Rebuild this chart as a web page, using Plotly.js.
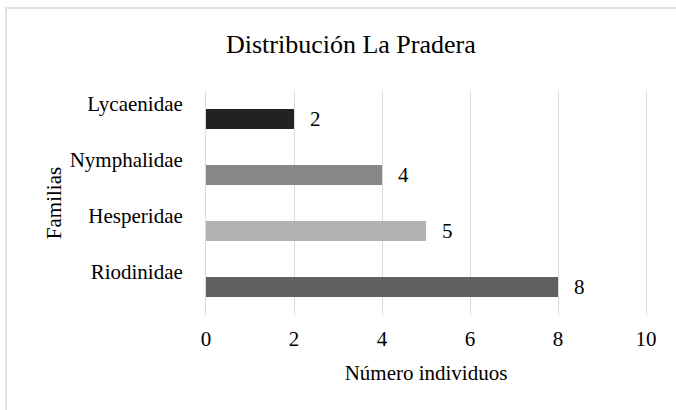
<!DOCTYPE html>
<html>
<head>
<meta charset="utf-8">
<script src="https://cdn.plot.ly/plotly-3.0.1.min.js"></script>
<style>
html,body{margin:0;padding:0;background:#fff;}
#chart{width:676px;height:410px;}
</style>
</head>
<body>
<div id="chart"></div>
<script>
// Data (bottom to top)
const families = ["Riodinidae", "Hesperidae", "Nymphalidae", "Lycaenidae"];
const counts = [8, 5, 4, 2];
const barColors = ["#606060", "#b2b2b2", "#888888", "#222222"];
const xTicks = [0, 2, 4, 6, 8, 10];

const positions = families.map((_, i) => i);
const labelOffset = 0.27;
const SERIF = "Liberation Serif";

const trace = {
  type: "bar",
  orientation: "h",
  x: counts,
  y: positions,
  width: 0.36,
  marker: { color: barColors },
  hoverinfo: "x+text",
  text: families,
  textposition: "none",
  showlegend: false
};

const annotations = counts.map((v, i) => ({
  x: v, y: positions[i], xref: "x", yref: "y",
  text: String(v), showarrow: false, xanchor: "left", yanchor: "middle",
  xshift: 14,
  font: { family: SERIF, size: 21, color: "#000" }
}));

const layout = {
  width: 676, height: 410,
  margin: { l: 206, r: 30, t: 91, b: 95 },
  paper_bgcolor: "#fff", plot_bgcolor: "#fff",
  font: { family: SERIF, color: "#000", size: 21 },
  title: {
    text: "Distribución La Pradera",
    font: { size: 26, family: SERIF, color: "#000" },
    x: 0.519, xref: "container", xanchor: "center",
    y: 0.892, yref: "container", yanchor: "middle"
  },
  xaxis: {
    range: [0, 10],
    tickvals: xTicks,
    ticktext: xTicks.map(String),
    showgrid: true, gridcolor: "#d9d9d9", gridwidth: 1,
    zeroline: false, showline: false, ticks: "",
    ticklabelstandoff: 9,
    tickfont: { size: 21, family: SERIF },
    title: { text: "Número individuos", font: { size: 21, family: SERIF }, standoff: 15 }
  },
  yaxis: {
    range: [-0.5, 3.5],
    tickvals: positions.map(p => p + labelOffset),
    ticktext: families,
    showgrid: false, zeroline: false,
    showline: true, linecolor: "#d9d9d9", linewidth: 1, mirror: true,
    ticks: "",
    ticklabelstandoff: 18,
    tickfont: { size: 21, family: SERIF },
    automargin: false,
    title: { text: "Familias", font: { size: 21, family: SERIF }, standoff: 2 }
  },
  annotations: annotations,
  shapes: [{
    type: "rect", xref: "paper", yref: "paper",
    x0: (6 - 206) / 440, x1: (700 - 206) / 440,
    y0: (315 - 420) / 224, y1: (315 - 8) / 224,
    line: { color: "#d9d9d9", width: 1.5 }, fillcolor: "rgba(0,0,0,0)", layer: "below"
  }]
};

Plotly.newPlot("chart", [trace], layout, { displayModeBar: false, staticPlot: true });
</script>
</body>
</html>
